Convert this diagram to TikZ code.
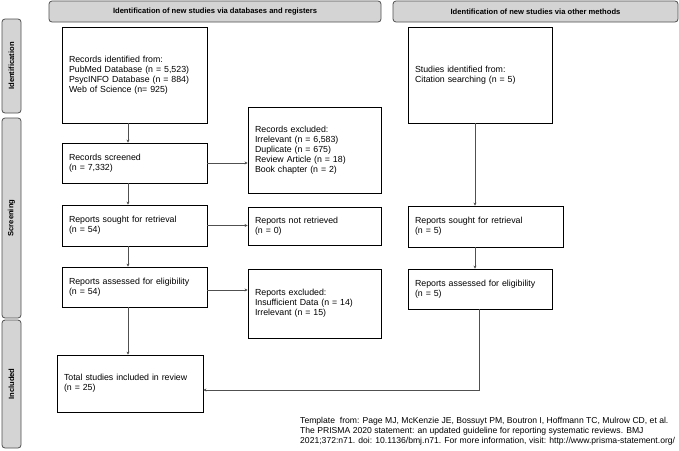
\documentclass[tikz,border=0pt]{standalone}
\usepackage{fontspec}
\setmainfont{Liberation Sans}
\usepackage{tikz}
\usetikzlibrary{arrows.meta}

\definecolor{barfill}{HTML}{D4D4D4}
\definecolor{lineclr}{HTML}{505050}

\tikzset{
  box/.style={draw=black, line width=0.8pt, rectangle, align=left, inner xsep=7pt,
    font=\fontsize{8.8}{10}\selectfont},
  bar/.style={draw=lineclr, fill=barfill, line width=0.8pt, rounded corners=3pt,
    font=\bfseries\fontsize{7.6}{9}\selectfont, inner sep=0pt},
  arr/.style={draw=lineclr, line width=0.8pt, -{Stealth[length=3pt,width=3pt]}},
}

\begin{document}
\begin{tikzpicture}[x=1pt,y=-1pt]
\useasboundingbox (0,0) rectangle (679,450);

% headers and phases
 \draw (215,11.5) node[bar, minimum width=332pt, minimum height=21pt] (hdb) {Identification of new studies via databases and registers};
 \draw (535.5,11.5) node[bar, minimum width=285pt, minimum height=21pt] (hother) {Identification of new studies via other methods};
 \draw (11.5,66) node[bar, rotate=90, minimum width=94pt, minimum height=19pt] (ident) {Identification};
 \draw (11.5,218) node[bar, rotate=90, minimum width=200pt, minimum height=19pt] (screen) {Screening};
 \draw (11.5,384) node[bar, rotate=90, minimum width=128pt, minimum height=19pt] (incl) {Included};

% databases and registers
 \draw (134.5,75) node[box, minimum width=145pt, minimum height=96pt, text width=131pt] (rec) {Records identified from:\\PubMed Database (n = 5,523)\\PsycINFO Database (n = 884)\\Web of Science (n= 925)};
 \draw (314.5,150) node[box, minimum width=133pt, minimum height=86pt, text width=119pt] (recexcl) {Records excluded:\\Irrelevant (n = 6,583)\\Duplicate (n = 675)\\Review Article (n = 18)\\Book chapter (n = 2)};
 \draw (134.5,163) node[box, minimum width=145pt, minimum height=40pt, text width=131pt] (scr) {Records screened\\(n = 7,332)};
 \draw (134.5,225.5) node[box, minimum width=145pt, minimum height=41pt, text width=131pt] (sought) {Reports sought for retrieval\\(n = 54)};
 \draw (314.5,226) node[box, minimum width=133pt, minimum height=38pt, text width=119pt] (notret) {Reports not retrieved\\(n = 0)};
 \draw (134.5,287) node[box, minimum width=145pt, minimum height=40pt, text width=131pt] (assess) {Reports assessed for eligibility\\(n = 54)};
 \draw (314.5,303.5) node[box, minimum width=133pt, minimum height=69pt, text width=119pt] (repexcl) {Reports excluded:\\Insufficient Data (n = 14)\\Irrelevant (n = 15)};
 \draw (130,383.5) node[box, minimum width=146pt, minimum height=57pt, text width=132pt] (total) {Total studies included in review\\(n = 25)};

% other methods
 \draw (480,75) node[box, minimum width=144pt, minimum height=96pt, text width=130pt] (cit) {Studies identified from:\\Citation searching (n = 5)};
 \draw (485.5,226.5) node[box, minimum width=155pt, minimum height=41pt, text width=141pt] (sought2) {Reports sought for retrieval\\(n = 5)};
 \draw (480,289) node[box, minimum width=144pt, minimum height=40pt, text width=130pt] (assess2) {Reports assessed for eligibility\\(n = 5)};

% footer
 \draw (300,417) node[anchor=north west, inner sep=0pt, align=left, font=\fontsize{8.6}{10}\selectfont] (tmpl) {Template\ \ from: Page MJ, McKenzie JE, Bossuyt PM, Boutron I, Hoffmann TC, Mulrow CD, et al.\\The PRISMA 2020 statement: an updated guideline for reporting systematic reviews. BMJ\\2021;372:n71. doi: 10.1136/bmj.n71. For more information, visit: http://www.prisma-statement.org/};

 \coordinate (lane) at (128,0);
 \coordinate (lane2) at (475,0);
 \coordinate (turn) at (479,390);

 \draw[arr] (rec.south -| lane) -- (scr.north -| lane);
 \draw[arr] (scr.south -| lane) -- (sought.north -| lane);
 \draw[arr] (sought.south -| lane) -- (assess.north -| lane);
 \draw[arr] (assess.south -| lane) -- (total.north -| lane);
 \draw[arr] (scr.east) -- (scr.east -| recexcl.west);
 \draw[arr] (sought.east) -- (sought.east -| notret.west);
 \draw[arr] ([yshift=-3pt]assess.east) -- ([yshift=-3pt]assess.east -| repexcl.west);

 \draw[arr] (cit.south -| lane2) -- (sought2.north -| lane2);
 \draw[arr] (sought2.south -| lane2) -- (assess2.north -| lane2);
 \draw[arr] (assess2.south -| turn) -- (turn) -- (turn -| total.east);

\end{tikzpicture}
\end{document}
